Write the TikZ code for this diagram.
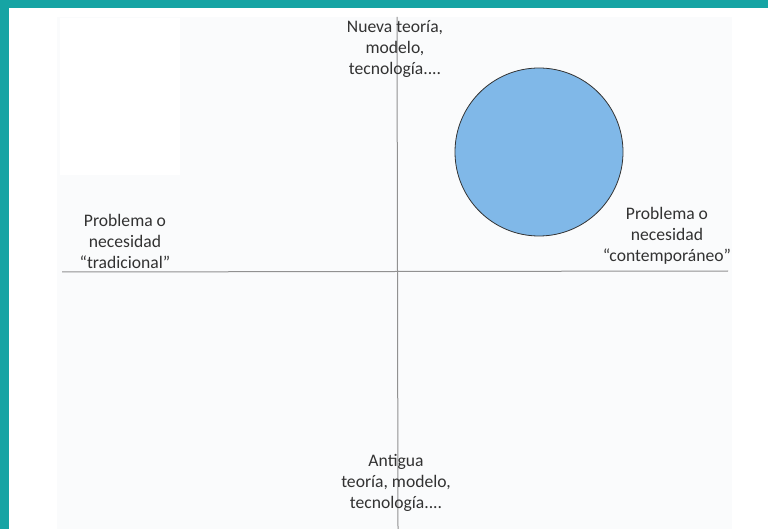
\documentclass[tikz,border=0pt]{standalone}
\usepackage{fontspec}
\setmainfont{Carlito}
\definecolor{teal1}{RGB}{22,164,164}
\definecolor{paper}{RGB}{250,251,252}
\definecolor{axis}{RGB}{145,145,145}
\definecolor{txt}{RGB}{50,50,50}
\definecolor{blueA}{RGB}{128,184,232}
\definecolor{blueB}{RGB}{150,198,238}
\tikzset{
  lbl/.style={text=txt, font=\fontsize{17.6}{21}\selectfont, align=center, inner sep=0pt},
  axisline/.style={draw=axis, line width=1pt},
}
\begin{document}
\begin{tikzpicture}[x=1pt,y=-1pt]
\useasboundingbox (0,0) rectangle (768,529);
\fill[white] (0,0) rectangle (768,529);
% paper
\fill[paper] (57,17) rectangle (732,529);
\fill[white] (60,18) rectangle (180,175);
% teal frame
\fill[teal1] (0,0) rectangle (768,8.5);
\fill[teal1] (0,0) rectangle (8.5,529);
% axes
\coordinate (hl) at (62,272);
\coordinate (hr) at (728,271);
\coordinate (vt) at (397,17);
\coordinate (vb) at (398,529);
\draw[axisline] (hl) -- (hr);
\draw[axisline] (vt) -- (vb);
% circle
\node[circle, minimum size=168pt, inner sep=0pt, fill=blueA, draw=black!80, line width=0.8pt] (c) at (539,152) {};
% labels
\node[lbl] (top) at (395,49) {Nueva teoría,\\modelo,\\tecnología....};
\node[lbl] (left) at (125,241) {Problema o\\necesidad\\“tradicional”};
\node[lbl] (right) at (667,236) {Problema o\\necesidad\\“contemporáneo”};
\node[lbl] (bottom) at (396,483) {Antigua\\teoría, modelo,\\tecnología....};
\end{tikzpicture}
\end{document}
